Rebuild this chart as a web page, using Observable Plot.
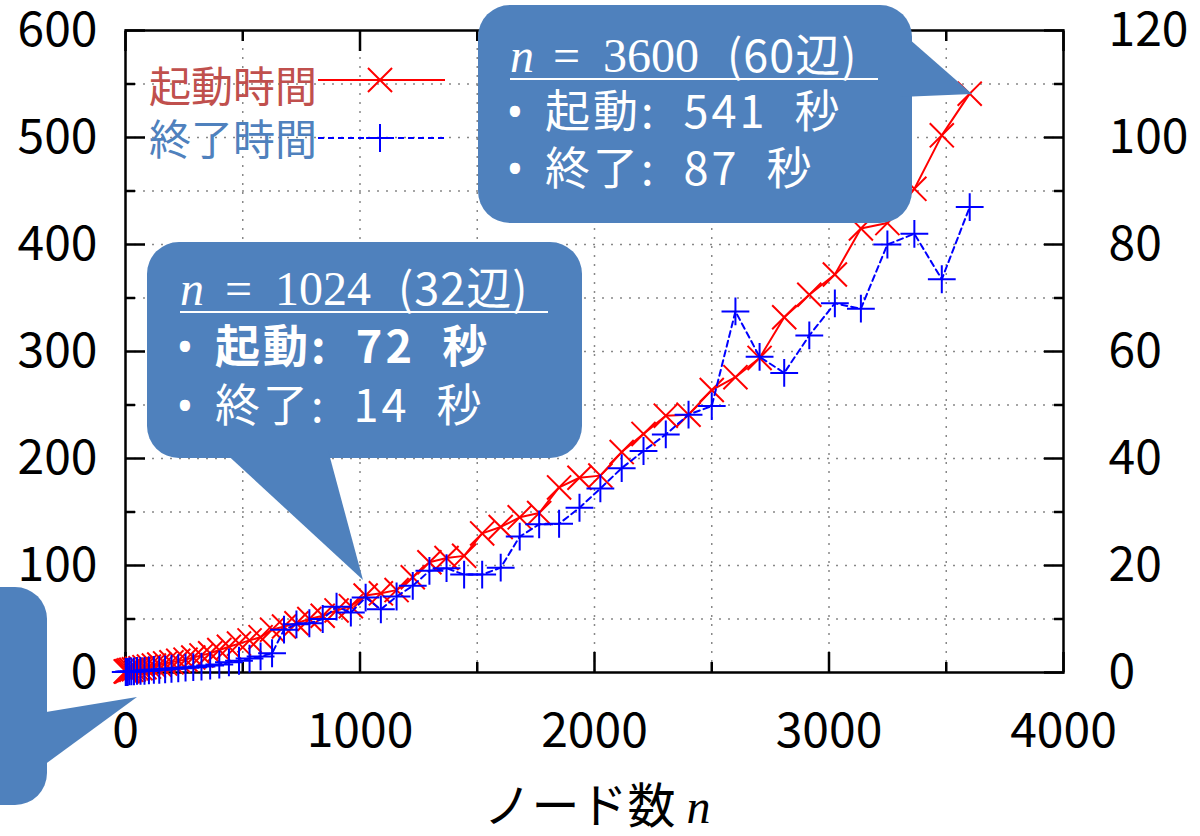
<!DOCTYPE html>
<html><head><meta charset="utf-8">
<script src="https://cdn.jsdelivr.net/npm/d3@7"></script>
<script src="https://cdn.jsdelivr.net/npm/@observablehq/plot@0.6"></script>
<style>
html,body{margin:0;padding:0;background:#fff;}
#chart{width:1200px;height:836px;overflow:hidden;position:relative;}
</style></head><body><div id="chart"></div>
<script>
// ノード数 n = (辺)^2
const nodes = [1,4,9,16,25,36,49,64,81,100,121,144,169,196,225,256,289,324,361,400,
  441,484,529,576,625,676,729,784,841,900,961,1024,1089,1156,1225,1296,1369,1444,1521,1600,
  1681,1764,1849,1936,2025,2116,2209,2304,2401,2500,2601,2704,2809,2916,3025,3136,3249,3364,3481,3600];
// 起動時間 (秒, 左軸)
const startupSec = [1,1,1.5,2,2.5,3,3.5,4,5,5.5, 6.5,7.5,8.5,9.5,11,12,14,16,18,21,
  24,27,30,33,40,43,46,50,53,58, 62,72,74,77,89,103,107,109,130,136,
  145,149,173,182,184,206,223,240,241,264, 276,294,332,353,372,415,420,452,502,541];
// 終了時間 (秒, 右軸)
const shutdownSec = [0.1,0.1,0.1,0.2,0.2,0.2,0.3,0.3,0.3,0.4, 0.5,0.5,0.6,0.7,0.8,0.9,1.0,1.1,1.3,1.5,
  1.9,2.2,2.6,3.0,3.6,8.0,9.0,9.2,10.0,12.3, 11.2,14,11.8,14.2,16.2,19,19.5,18.3,18.3,19.6,
  25.4,27.7,27.8,30.8,34.4,38.2,41.4,44.5,48.2,49.8, 67.5,59,56,63,69,68,80,82,73.5,87];

const xTicks = [0,1000,2000,3000,4000];
const xMinorTicks = [500,1500,2500,3500];
const xGrid = [500,1000,1500,2000,2500,3000,3500];
const yLeftTicks = [0,100,200,300,400,500,600];
const yMinorTicks = [50,150,250,350,450,550];
const yGrid = [50,100,150,200,250,300,350,400,450,500,550];
const yRightLabels = ["0","20","40","60","80","100","120"];
const rightFactor = 600 / 120; // 右軸 0–120 → 左軸 0–600

const seriesNames = ["起動時間", "終了時間"];
const xTitle = "ノード数 ";

const FONT = "'Noto Sans CJK JP','Noto Sans',sans-serif";
const SERIF = "'Liberation Serif','DejaVu Serif',serif";
const CALLOUT = "#4F81BD";

const data = nodes.map((n, i) => ({n, s: startupSec[i], e: shutdownSec[i]}));

const axisStyle = {stroke: "black", strokeWidth: 2.5, label: null};
const plot = Plot.plot({
  width: 1200, height: 836,
  marginLeft: 125, marginRight: 137, marginTop: 30, marginBottom: 164,
  style: {fontFamily: FONT, fontSize: "48px", color: "black", background: "white", overflow: "hidden"},
  x: {domain: [0, 4000]},
  y: {domain: [0, 600]},
  marks: [
    Plot.gridX(xGrid, {stroke: "#888", strokeOpacity: 1, strokeWidth: 1.5, strokeDasharray: "2,7"}),
    Plot.gridY(yGrid, {stroke: "#888", strokeOpacity: 1, strokeWidth: 1.5, strokeDasharray: "2,7"}),
    Plot.frame({stroke: "black", strokeWidth: 2.5}),
    Plot.axisX(xTicks, {...axisStyle, anchor: "bottom", tickSize: -20, tickPadding: 60, tickFormat: d => String(d)}),
    Plot.axisX(xTicks, {...axisStyle, anchor: "top", tickSize: -20, tickFormat: () => ""}),
    Plot.axisX(xMinorTicks, {...axisStyle, anchor: "bottom", tickSize: -10, tickFormat: () => ""}),
    Plot.axisX(xMinorTicks, {...axisStyle, anchor: "top", tickSize: -10, tickFormat: () => ""}),
    Plot.axisY(yLeftTicks, {...axisStyle, anchor: "left", tickSize: -20, tickPadding: 48, tickFormat: d => String(d)}),
    Plot.axisY(yLeftTicks, {...axisStyle, anchor: "right", tickSize: -20, tickPadding: 65,
      tickFormat: d => yRightLabels[yLeftTicks.indexOf(d)]}),
    Plot.axisY(yMinorTicks, {...axisStyle, anchor: "left", tickSize: -10, tickFormat: () => ""}),
    Plot.axisY(yMinorTicks, {...axisStyle, anchor: "right", tickSize: -10, tickFormat: () => ""}),
    Plot.line(data, {x: "n", y: "s", stroke: "#ff0000", strokeWidth: 2}),
    Plot.dot(data, {x: "n", y: "s", symbol: "times", r: 11, stroke: "#ff0000", strokeWidth: 2}),
    Plot.line(data, {x: "n", y: d => d.e * rightFactor, stroke: "#0000ff", strokeWidth: 2, strokeDasharray: "6,4"}),
    Plot.dot(data, {x: "n", y: d => d.e * rightFactor, symbol: "plus", r: 9, stroke: "#0000ff", strokeWidth: 2})
  ]
});
document.getElementById("chart").appendChild(plot);
const svg = d3.select(plot.tagName.toLowerCase() === "svg" ? plot : plot.querySelector("svg"));

// 軸タイトル
const xt = svg.append("text").attr("x", 597).attr("y", 823).attr("text-anchor", "middle")
  .attr("font-family", FONT).attr("font-size", 48).attr("fill", "black");
xt.append("tspan").text(xTitle);
xt.append("tspan").attr("font-family", SERIF).attr("font-style", "italic").text("n");

// 凡例
const lg = svg.append("g");
const symSize = r => Math.PI * r * r;
lg.append("text").attr("x", 317).attr("y", 102).attr("text-anchor", "end").attr("font-family", FONT)
  .attr("font-size", 42).attr("fill", "#C0504D").text(seriesNames[0]);
lg.append("line").attr("x1", 318).attr("x2", 445).attr("y1", 80).attr("y2", 80).attr("stroke", "#ff0000").attr("stroke-width", 2);
lg.append("path").attr("transform", "translate(380,80)").attr("d", d3.symbol(d3.symbolTimes, symSize(11))())
  .attr("fill", "none").attr("stroke", "#ff0000").attr("stroke-width", 2);
lg.append("text").attr("x", 317).attr("y", 155).attr("text-anchor", "end").attr("font-family", FONT)
  .attr("font-size", 42).attr("fill", "#4F81BD").text(seriesNames[1]);
lg.append("line").attr("x1", 318).attr("x2", 445).attr("y1", 138).attr("y2", 138).attr("stroke", "#0000ff").attr("stroke-width", 2).attr("stroke-dasharray", "6,4");
lg.append("path").attr("transform", "translate(380,138)").attr("d", d3.symbol(d3.symbolPlus, symSize(9))())
  .attr("fill", "none").attr("stroke", "#0000ff").attr("stroke-width", 2);

// 吹き出し
function callout(rect, tri) {
  const g = svg.append("g").attr("text-anchor", "start");
  g.append("rect").attr("x", rect[0]).attr("y", rect[1]).attr("width", rect[2]).attr("height", rect[3])
    .attr("rx", 32).attr("fill", CALLOUT);
  g.append("polygon").attr("points", tri.map(p => p.join(",")).join(" ")).attr("fill", CALLOUT);
  return g;
}
function heading(g, x0, base, xs, num, paren, ulEnd) {
  const t = g.append("text").attr("y", base).attr("fill", "white").attr("font-size", 48).attr("text-anchor", "start");
  t.append("tspan").attr("x", xs[0]).attr("font-family", SERIF).attr("font-style", "italic").text("n");
  t.append("tspan").attr("x", xs[1]).attr("font-family", SERIF).text("=");
  t.append("tspan").attr("x", xs[2]).attr("font-family", SERIF).text(num);
  t.append("tspan").attr("x", xs[3]).attr("font-family", FONT).attr("font-size", 45).attr("letter-spacing", 1).text(paren);
  g.append("line").attr("x1", x0).attr("x2", ulEnd).attr("y1", base + 7).attr("y2", base + 7)
    .attr("stroke", "white").attr("stroke-width", 2);
}
function bullet(g, x, base, label, bold) {
  g.append("text").attr("x", x).attr("y", base).attr("text-anchor", "middle").attr("fill", "white")
    .attr("font-family", "'Noto Sans',sans-serif").attr("font-size", 46).text("•");
  g.append("text").attr("x", x + 30).attr("y", base).attr("text-anchor", "start").attr("fill", "white").attr("font-family", FONT)
    .attr("font-size", 45).attr("letter-spacing", 3).attr("word-spacing", 14)
    .attr("font-weight", bold ? 700 : 400).text(label);
}

const c1 = callout([147, 242, 435, 216], [[222, 450], [328, 450], [363, 580]]);
heading(c1, 180, 305, [180, 225, 275, 398], "1024", "(32辺)", 548);
bullet(c1, 185, 363, "起動: 72 秒", true);
bullet(c1, 185, 422, "終了: 14 秒", false);

const c2 = callout([478, 5, 434, 218], [[900, 31], [972, 94], [900, 97]]);
heading(c2, 510, 72, [510, 553, 603, 727], "3600", "(60辺)", 878);
bullet(c2, 515, 128, "起動: 541 秒", false);
bullet(c2, 515, 185, "終了: 87 秒", false);

const c3 = callout([-60, 587, 107, 218], [[40, 713], [137, 697], [40, 768]]);
</script>
</body></html>
